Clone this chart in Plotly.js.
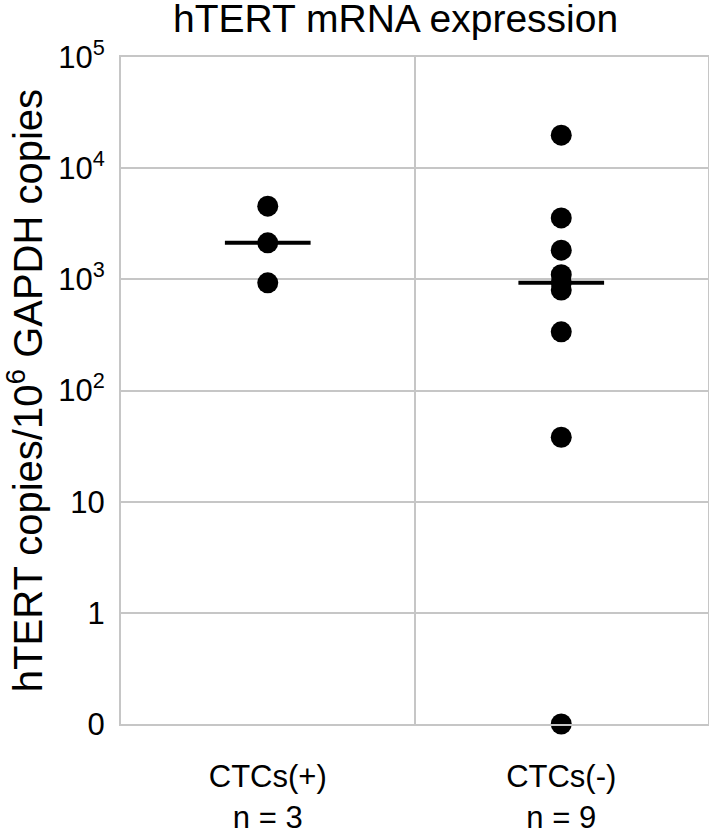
<!DOCTYPE html>
<html>
<head>
<meta charset="utf-8">
<script src="https://cdn.plot.ly/plotly-3.0.1.min.js"></script>
<style>html,body{margin:0;padding:0;background:#fff;}#chart{width:709px;height:836px;}</style>
</head>
<body>
<div id="chart"></div>
<script>
// Categories and tick labels
const categories = ["CTCs(+)<br>n = 3", "CTCs(-)<br>n = 9"];
const yTickVals = [0.1, 1, 10, 100, 1000, 10000, 100000];
const yTickText = ["0", "1", "10", "10<sup>2</sup>", "10<sup>3</sup>", "10<sup>4</sup>", "10<sup>5</sup>"];

// Values (hTERT copies / 10^6 GAPDH copies)
const ctcPos = [4550, 2130, 930];
const ctcNeg = [19800, 3570, 1830, 1100, 930, 800, 337, 38, 0];

// A value of 0 is drawn on the axis floor, which is labelled "0"
const ZERO_FLOOR = 0.1;
const toPlot = v => (v <= 0 ? ZERO_FLOOR : v);

function median(arr) {
  const s = arr.slice().sort((a, b) => a - b);
  const m = Math.floor(s.length / 2);
  return s.length % 2 ? s[m] : (s[m - 1] + s[m]) / 2;
}

const groups = [ctcPos, ctcNeg];
const halfW = 0.146;
const traces = [];

groups.forEach((vals, i) => {
  const med = median(vals);
  traces.push({
    type: "scatter", mode: "lines",
    x: [i - halfW, i + halfW], y: [toPlot(med), toPlot(med)],
    line: {color: "#000", width: 4},
    hoverinfo: "skip", showlegend: false
  });
});
groups.forEach((vals, i) => {
  traces.push({
    type: "scatter", mode: "markers",
    x: vals.map(() => i), y: vals.map(toPlot),
    marker: {color: "#000", size: 21},
    cliponaxis: false, showlegend: false
  });
});

const gridC = "#c6c6c6";
const layout = {
  width: 709, height: 836,
  margin: {l: 121, r: 1, t: 57, b: 112},
  paper_bgcolor: "#fff", plot_bgcolor: "#fff",
  font: {family: "Liberation Sans, Arial, sans-serif", color: "#000"},
  showlegend: false,
  title: {
    text: "hTERT mRNA expression",
    font: {size: 39, color: "#000"},
    x: 0.558, xanchor: "center",
    y: 0.978, yanchor: "middle"
  },
  xaxis: {
    range: [-0.5, 1.5], fixedrange: true,
    tickmode: "array", tickvals: [0, 1], ticktext: categories,
    ticks: "", showgrid: false, zeroline: false,
    showline: true, mirror: true, linecolor: gridC, linewidth: 2,
    tickfont: {size: 31, color: "#000"},
    ticklabelstandoff: 24,
    minor: {tickmode: "linear", tick0: -0.5, dtick: 1, showgrid: true, gridcolor: gridC, gridwidth: 2, ticks: ""}
  },
  yaxis: {
    type: "log", range: [-1, 5], fixedrange: true,
    tickmode: "array", tickvals: yTickVals, ticktext: yTickText,
    ticks: "", showgrid: true, gridcolor: gridC, gridwidth: 2, zeroline: false,
    showline: true, mirror: true, linecolor: gridC, linewidth: 2,
    tickfont: {size: 31, color: "#000"},
    ticklabelstandoff: 8,
    title: {text: "hTERT copies/10<sup>6</sup> GAPDH copies", font: {size: 40, color: "#000"}, standoff: 18}
  }
};

Plotly.newPlot("chart", traces, layout, {displayModeBar: false, staticPlot: true});
</script>
</body>
</html>
